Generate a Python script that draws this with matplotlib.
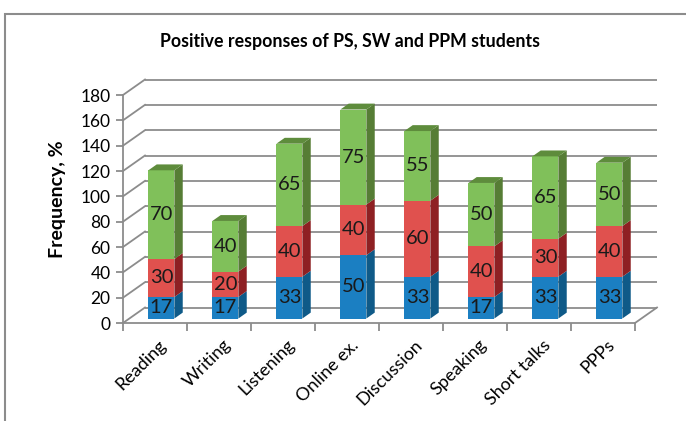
import matplotlib
matplotlib.use("Agg")
import matplotlib.pyplot as plt
from matplotlib.patches import Polygon, Rectangle
import numpy as np

categories = ['Reading', 'Writing', 'Listening', 'Online ex.', 'Discussion',
              'Speaking', 'Short talks', 'PPPs']
ps_values = [17, 17, 33, 50, 33, 17, 33, 33]
sw_values = [30, 20, 40, 40, 60, 40, 30, 40]
ppm_values = [70, 40, 65, 75, 55, 50, 65, 50]
y_ticks = list(range(0, 181, 20))
title = 'Positive responses of PS, SW and PPM students'
ylabel = 'Frequency, %'

front_colors = ['#1b7fc2', '#e0514e', '#80c05a']
side_colors = ['#0f5a88', '#8e2023', '#567d35']
top_colors = ['#145f8f', '#a02a2c', '#5e8c3c']

plt.rcParams['font.family'] = ['Lato', 'DejaVu Sans']

W, H = 686, 421
fig = plt.figure(figsize=(W / 100, H / 100), dpi=100)

# pixel geometry
px_per_slot = 64.0
px_per_unit = (323 - 95) / 180.0
x0_px, y0_px = 123, 323
xlim = (-0.5, 8.0)
ylim = (0, 195)
ax_w = (xlim[1] - xlim[0]) * px_per_slot
ax_h = (ylim[1] - ylim[0]) * px_per_unit
ax = fig.add_axes([x0_px / W, (H - y0_px) / H, ax_w / W, ax_h / H])
ax.set_xlim(*xlim)
ax.set_ylim(*ylim)
ax.patch.set_visible(False)

# depth offsets (wall)
dx = 22 / px_per_slot
dy = 15.5 / px_per_unit
grid_color = '#8c8c8c'
n = len(categories)
xl, xr = -0.5, n - 0.5

for v in y_ticks:
    ax.plot([xl + dx, xr + dx], [v + dy, v + dy], color=grid_color, lw=1.3,
            clip_on=False, zorder=1, solid_capstyle='butt')
    ax.plot([xl, xl + dx], [v, v + dy], color=grid_color, lw=1.3,
            clip_on=False, zorder=1)
ax.plot([xr, xr + dx], [0, dy], color=grid_color, lw=1.3, clip_on=False, zorder=1)

# spines
for s in ['top', 'right']:
    ax.spines[s].set_visible(False)
ax.spines['left'].set_bounds(0, 180)
ax.spines['bottom'].set_bounds(xl, xr)
for s in ['left', 'bottom']:
    ax.spines[s].set_color(grid_color)
    ax.spines[s].set_linewidth(1.3)
    ax.spines[s].set_zorder(1)

ax.set_yticks(y_ticks)
ax.set_yticklabels([str(t) for t in y_ticks], fontsize=12.5)
ax.tick_params(axis='y', length=5, color=grid_color, width=1.3, pad=4)

ax.set_xticks(np.arange(n + 1) - 0.5, minor=True)
ax.set_xticks(np.arange(n) + 0.05)
ax.set_xticklabels(categories, rotation=45, ha='right', rotation_mode='anchor',
                   fontsize=13)
ax.tick_params(axis='x', which='major', length=0, pad=10)
ax.tick_params(axis='x', which='minor', length=6, color=grid_color, width=1.3)

# bars
f1, f2 = 0.29, 0.67
ox, oy = f1 * dx, f1 * dy
sx, sy = (f2 - f1) * dx, (f2 - f1) * dy
bw = 26 / px_per_slot
x = np.arange(n)
series = [ps_values, sw_values, ppm_values]
bottoms = np.zeros(n)
for si, vals in enumerate(series):
    vals = np.array(vals, dtype=float)
    ax.bar(x + ox, vals, width=bw, bottom=bottoms + oy, color=front_colors[si],
           zorder=3, clip_on=False, linewidth=0)
    for i in range(n):
        xa = x[i] + ox - bw / 2
        xb = x[i] + ox + bw / 2
        yb = bottoms[i] + oy
        yt = bottoms[i] + vals[i] + oy
        ax.add_patch(Polygon([(xb, yb), (xb + sx, yb + sy), (xb + sx, yt + sy), (xb, yt)],
                             closed=True, facecolor=side_colors[si], edgecolor='none',
                             zorder=3, clip_on=False))
        if si == len(series) - 1:
            ax.add_patch(Polygon([(xa, yt), (xa + sx, yt + sy), (xb + sx, yt + sy), (xb, yt)],
                                 closed=True, facecolor=top_colors[si], edgecolor='none',
                                 zorder=3, clip_on=False))
        ax.text(x[i] + ox, yb + vals[i] / 2, str(int(vals[i])), ha='center', va='center',
                fontsize=14.5, color='#1a1a1a', zorder=5)
    bottoms = bottoms + vals

ax.set_ylabel(ylabel, fontsize=14, fontweight='bold', labelpad=10)
fig.text(350 / W, 1 - 41 / H, title, ha='center', va='center', fontsize=12.8,
         fontweight='bold')

fig.patches.append(Rectangle((5 / W, -0.2), 1.5, 1.2 - 14 / H, transform=fig.transFigure,
                             facecolor='none', edgecolor='#8c8c8c', lw=1.5))

fig.savefig('out.png', dpi=100)
